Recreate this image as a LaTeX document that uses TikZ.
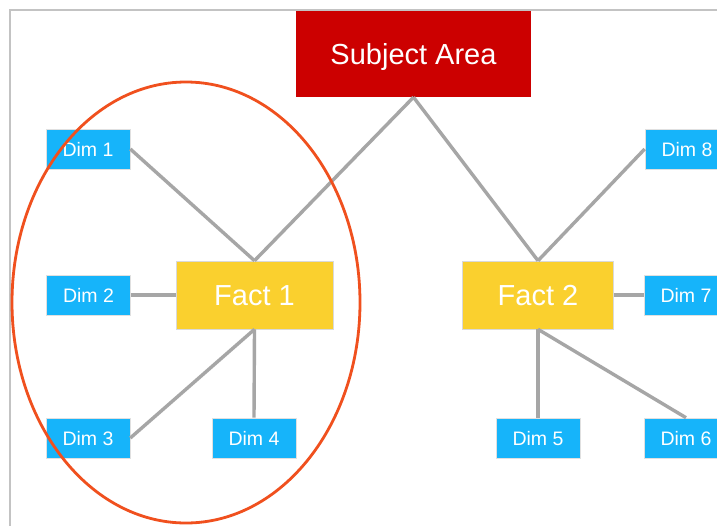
\documentclass[tikz,border=0pt]{standalone}
\usepackage{fontspec}
\setmainfont{Liberation Sans}
\usetikzlibrary{shapes.geometric}
\definecolor{subjred}{RGB}{204,0,0}
\definecolor{dimblue}{RGB}{22,180,250}
\definecolor{factyellow}{RGB}{250,208,46}
\definecolor{linkgray}{RGB}{166,166,166}
\definecolor{framegray}{RGB}{195,195,195}
\definecolor{ringorange}{RGB}{240,80,30}
\begin{document}
\begin{tikzpicture}[x=1pt,y=-1pt,
  subject/.style={fill=subjred,text=white,inner sep=0pt,minimum width=235pt,minimum height=86pt,
    text height=21pt,text depth=0pt,font=\fontsize{29}{34}\selectfont},
  fact/.style={fill=factyellow,draw=black!15,line width=0.6pt,text=white,inner sep=0pt,minimum height=68pt,
    text height=21pt,text depth=0pt,font=\fontsize{29}{34}\selectfont},
  dim/.style={fill=dimblue,draw=black!12,line width=0.6pt,text=white,inner sep=0pt,minimum width=84pt,minimum height=40pt,
    text height=14pt,text depth=0pt,font=\fontsize{19.5}{23}\selectfont},
  link/.style={draw=linkgray,line width=3.4pt},
  ring/.style={draw=ringorange,line width=2.8pt}]
\useasboundingbox (0,0) rectangle (717,525);
\clip (0,0) rectangle (717,525);
\fill[white] (0,0) rectangle (717,525);
% outer frame
\draw[framegray,line width=1.5pt] (10,540) -- (10,10) -- (740,10);

% nodes
\node[subject] (sa) at (413.5,54) {Subject Area};
\node[fact,minimum width=157pt] (f1) at (254.5,295) {Fact 1};
\node[fact,minimum width=151pt] (f2) at (538,295) {Fact 2};
\node[dim] (d1) at (88,149) {Dim 1};
\node[dim] (d2) at (88.5,295) {Dim 2};
\node[dim] (d3) at (88,438) {Dim 3};
\node[dim] (d4) at (254,438) {Dim 4};
\node[dim] (d5) at (538,438) {Dim 5};
\node[dim] (d6) at (686,438) {Dim 6};
\node[dim] (d7) at (686,295) {Dim 7};
\node[dim] (d8) at (687,149) {Dim 8};

% connectors
\draw[link] (sa.south) -- (f1.north);
\draw[link] (sa.south) -- (f2.north);
\draw[link] (d1.east) -- (f1.north);
\draw[link] (d2.east) -- (f1.west);
\draw[link] (d3.east) -- (f1.south);
\draw[link] (d4.north) -- (f1.south);
\draw[link] (d8.west) -- (f2.north);
\draw[link] (f2.east) -- (d7.west);
\draw[link] (f2.south) -- (d5.north);
\draw[link] (f2.south) -- (d6.north);

% grouping ring
\node[ring,ellipse,minimum width=348pt,minimum height=441pt,inner sep=0pt] (grp) at (186,302.5) {};
\end{tikzpicture}
\end{document}
